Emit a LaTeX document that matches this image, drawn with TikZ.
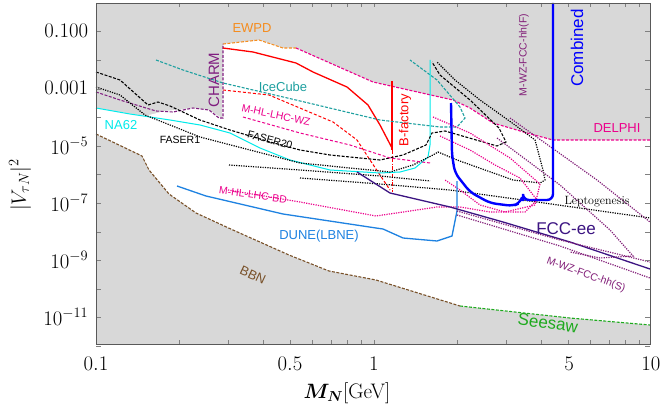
\documentclass[tikz,border=0pt]{standalone}
\usepackage{fontspec}
\setsansfont{Liberation Sans}
\usepackage{amsmath}
\usetikzlibrary{positioning}
\definecolor{bggray}{RGB}{216,216,216}
\definecolor{ewpd}{RGB}{245,140,30}
\definecolor{charm}{RGB}{128,30,128}
\definecolor{teal}{RGB}{30,160,160}
\definecolor{na62}{RGB}{0,235,235}
\definecolor{dune}{RGB}{30,130,225}
\definecolor{bbn}{RGB}{120,80,40}
\definecolor{seesaw}{RGB}{30,170,30}
\definecolor{fccee}{RGB}{60,20,130}
\definecolor{fcchh}{RGB}{130,30,120}
\begin{document}
\begin{tikzpicture}[x=1pt,y=-1pt,line width=1pt,
    lbl/.style={font=\sffamily\fontsize{13}{14}\selectfont,inner sep=1pt},
    small lbl/.style={font=\sffamily\fontsize{10.5}{12}\selectfont,inner sep=1pt},
    big lbl/.style={font=\sffamily\fontsize{17}{18}\selectfont,inner sep=1pt},
    tick label/.style={font=\fontsize{21}{22}\selectfont},
    bound/.style={dash pattern=on 3pt off 1.5pt,line width=1.1pt},
    dots/.style={dash pattern=on 1.2pt off 1.2pt,line width=1.2pt}]
  \useasboundingbox (0,0) rectangle (664,412);

  % excluded and allowed regions
  \fill[bggray] (96,3) rectangle (650,344);
  \fill[white] (96,108) -- (145,116) -- (165,111) -- (193,108) -- (209,110) -- (222,118)
    -- (223,44) -- (259,40) -- (283,48) -- (296,48) -- (373,82) -- (453,100) -- (470,108)
    -- (493,123) -- (527,133) -- (553,140) -- (650,140) -- (650,325) -- (570,318)
    -- (460,306) -- (376,280) -- (329,271) -- (289,255) -- (233,230) -- (196,213)
    -- (169,194) -- (149,170) -- (142,156) -- (96,134) -- cycle;

  % lower bounds
  \draw[bbn,bound] (96,134) -- (142,156) -- (149,170) -- (169,194) -- (196,213) -- (233,230)
    -- (289,255) -- (329,271) -- (376,280) -- (460,306);
  \draw[seesaw,bound] (460,306) -- (570,318) -- (650,325);

  % upper bounds
  \draw[ewpd,bound] (223,44) -- (259,40) -- (283,48) -- (296,48);
  \draw[magenta,bound] (296,48) -- (373,82) -- (453,100) -- (470,108) -- (493,123)
    -- (527,133) -- (553,140) -- (650,140);
  \draw[charm,bound] (96,92) -- (120,100) -- (146,108) -- (156,111) -- (173,112)
    -- (193,108) -- (209,110) -- (219,118) -- (223,118) -- (223,44);
  \draw[red,line width=1.3pt] (223,48) -- (253,52) -- (296,63) -- (313,72) -- (347,87)
    -- (368,105) -- (380,125) -- (392,148);
  \draw[red,line width=1.3pt] (392,81) -- (392,150);
  \draw[red,dash pattern=on 4pt off 1.5pt on 1pt off 1.5pt] (392,150) -- (392,192);
  \draw[red,dash pattern=on 3pt off 2pt] (223,90) -- (269,95) -- (333,122) -- (357,140)
    -- (370,160) -- (380,175) -- (390,190);
  \draw[teal,bound] (156,60) -- (183,70) -- (223,83) -- (296,100) -- (380,120) -- (440,127)
    -- (457,127) -- (465,118) -- (460,107) -- (437,80) -- (410,60);
  \draw[na62] (96,108) -- (130,114) -- (170,120) -- (200,125) -- (230,133) -- (260,148)
    -- (290,160) -- (330,170) -- (380,173) -- (400,172) -- (415,168) -- (428,157)
    -- (430,145) -- (430,60);

  % FASER curves
  \draw[black,bound] (96,72) -- (120,80) -- (148,105) -- (158,102) -- (170,106)
    -- (200,120) -- (230,130) -- (270,142) -- (300,150) -- (330,155) -- (360,158)
    -- (380,160) -- (403,155) -- (426,145) -- (432,133) -- (445,131) -- (497,146)
    -- (506,142) -- (499,128) -- (470,100) -- (440,75) -- (432,62);
  \draw[black,dots] (96,87) -- (120,95) -- (145,115) -- (200,137) -- (250,150) -- (300,163)
    -- (350,168) -- (390,172) -- (413,165) -- (433,155) -- (438,152) -- (457,160)
    -- (513,180) -- (540,183) -- (545,180) -- (543,170) -- (535,140) -- (515,125)
    -- (480,100) -- (455,80) -- (437,62);
  \draw[black,dots] (229,165) -- (300,170) -- (380,176) -- (430,181);
  \draw[black,dots] (300,178) -- (380,184) -- (450,190) -- (537,202) -- (650,218);

  % future searches
  \draw[magenta,dash pattern=on 3pt off 2pt] (243,117) -- (300,133) -- (350,145)
    -- (390,158) -- (430,163);
  \draw[magenta,dots] (433,117) -- (470,133) -- (510,158) -- (540,184) -- (535,205)
    -- (505,212) -- (480,205) -- (460,190) -- (445,180);
  \draw[magenta,dots] (228,190) -- (300,202) -- (376,216) -- (437,207) -- (460,207)
    -- (490,212) -- (525,212) -- (537,200) -- (520,178) -- (495,165) -- (470,150)
    -- (440,136);
  \draw[dune,line width=1.3pt] (177,186) -- (206,196) -- (283,214) -- (376,228) -- (383,229)
    -- (403,238) -- (437,241) -- (452,236) -- (457,211) -- (457,181);
  \draw[fccee,line width=1.3pt] (357,172) -- (390,193) -- (450,207) -- (503,222) -- (570,242)
    -- (650,269);
  \draw[fcchh,dots] (457,215) -- (560,246) -- (650,278);
  \draw[fcchh,dots] (457,211) -- (560,240) -- (650,262);
  \draw[fcchh,dots] (497,138) -- (560,185) -- (610,230) -- (633,256) -- (600,258)
    -- (570,252);
  \draw[fcchh,dots] (510,118) -- (597,180) -- (650,222);

  % combined
  \draw[blue,line width=2.4pt,rounded corners=6pt] (553,3) -- (553,200) -- (523,200)
    -- (523,195) -- (520,203) -- (513,206) -- (490,203) -- (470,192) -- (455,173)
    -- (452,155) -- (451,103);

  % labels
  \node[lbl,ewpd] (lewpd) at (252,28) {EWPD};
  \node[lbl,charm,rotate=90,font=\sffamily\fontsize{15}{16}\selectfont] (lcharm) at (214,80) {CHARM};
  \node[lbl,teal] (licecube) at (283,87) {IceCube};
  \node[lbl,na62] (lna62) at (121,125) {NA62};
  \node[small lbl,black] (lfaser1) at (180,140) {FASER1};
  \node[small lbl,black,rotate=-15] (lfaser20) at (270,140) {FASER20};
  \node[small lbl,magenta,rotate=-12] (lwz) at (276,115) {M-HL-LHC-WZ};
  \node[small lbl,magenta,rotate=-8] (lbd) at (253,195) {M-HL-LHC-BD};
  \node[lbl,red,rotate=90] (lbfac) at (405,120) {B-factory};
  \node[lbl,dune] (ldune) at (319,236) {DUNE(LBNE)};
  \node[lbl,bbn,rotate=-25] (lbbn) at (253,275) {BBN};
  \node[big lbl,seesaw,rotate=-8] (lseesaw) at (548,323) {Seesaw};
  \node[big lbl,fccee] (lfccee) at (566,229) {FCC-ee};
  \node[small lbl,fcchh,rotate=-20] (lhhs) at (586,275) {M-WZ-FCC-hh(S)};
  \node[small lbl,fcchh,rotate=90] (lhhf) at (524,55) {M-WZ-FCC-hh(F)};
  \node[big lbl,blue,rotate=90] (lcomb) at (577,48) {Combined};
  \node[lbl,magenta] (ldelphi) at (617,128) {DELPHI};
  \node[font=\fontsize{12}{13}\selectfont,inner sep=1pt] (llepto) at (597,202) {Leptogenesis};

  % axes
  \foreach \m in {1,...,9,10,20,30,40,50,60,70,80,90}{
    \pgfmathsetmacro{\tx}{96+278*log10(\m)}
    \draw[gray,thin] (\tx,344) -- (\tx,340) (\tx,3) -- (\tx,7);
  }
  \foreach \k in {0,...,12}{
    \pgfmathsetmacro{\ty}{3+28.6*\k}
    \draw[gray,thin] (96,\ty) -- (101,\ty) (650,\ty) -- (645,\ty);
  }
  \draw[gray!70!black,thick] (96,3) rectangle (650,344);
  \foreach \v/\y in {0.100/31,0.001/88,10^{-5}/146,10^{-7}/203,10^{-9}/260,10^{-11}/317}
    \node[tick label,anchor=east] at (92,\y) {$\v$};
  \foreach \v/\x in {0.1/96,0.5/290,1/374,5/569,10/651}
    \node[tick label] at (\x,364) {$\v$};
  \node[tick label] (xlab) at (347,393) {$\boldsymbol{M_N}$[GeV]};
  \node[tick label,rotate=90] (ylab) at (20,185) {$|V_{\tau N}|^2$};
\end{tikzpicture}
\end{document}
